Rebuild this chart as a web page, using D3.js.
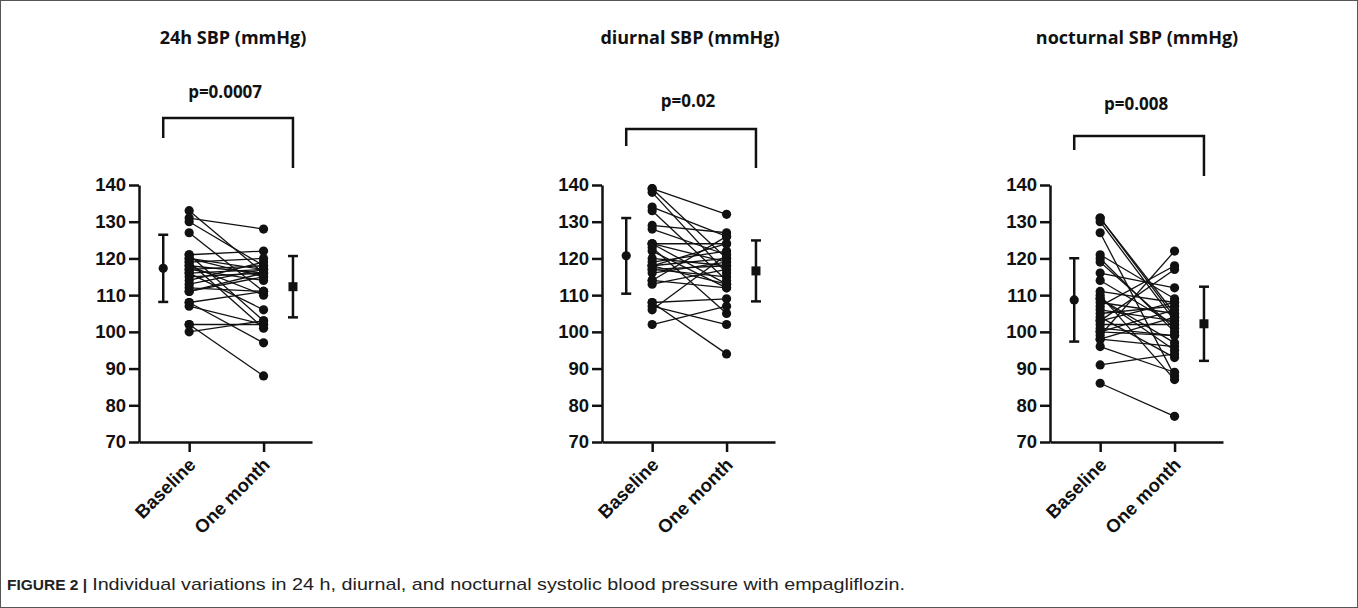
<!DOCTYPE html>
<html>
<head>
<meta charset="utf-8">
<script src="https://cdn.jsdelivr.net/npm/d3@7"></script>
<style>
  body { margin: 0; background: #fff; }
  svg { display: block; }
  .tick text { font-family: 'Liberation Sans', Arial, sans-serif; font-weight: bold; font-size: 18.5px; fill: #111; }
  .title, .pval { font-family: 'Open Sans', sans-serif; font-weight: bold; fill: #111; }
  .caption { font-family: 'Liberation Sans', Arial, sans-serif; font-size: 17px; fill: #222; }
</style>
</head>
<body>
<div id="chart"></div>
<script>
// chart data
const titles = ['24h SBP (mmHg)', 'diurnal SBP (mmHg)', 'nocturnal SBP (mmHg)']
const pValues = ['p=0.0007', 'p=0.02', 'p=0.008']
const timepoints = ['Baseline', 'One month']
const yTicks = [70, 80, 90, 100, 110, 120, 130, 140]

// individual patients: [baseline, one month]
const sbp24h = [
  [133, 116], [131, 128], [130, 118], [127, 111], [121, 122], [121, 103], [120, 117],
  [120, 115], [119, 120], [119, 101], [118, 116], [118, 110], [117, 118], [117, 114],
  [116, 117], [116, 106], [115, 116], [114, 119], [113, 117], [112, 111], [111, 115],
  [111, 116], [108, 111], [108, 97], [107, 102], [102, 102], [102, 88], [100, 103]
]
const sbpDiurnal = [
  [139, 132], [139, 120], [138, 116], [134, 126], [133, 114], [129, 127], [128, 121],
  [124, 124], [124, 119], [123, 105], [122, 112], [120, 118], [119, 122], [118, 124],
  [118, 113], [118, 120], [117, 118], [117, 115], [116, 119], [114, 126], [114, 112],
  [113, 117], [108, 94], [108, 109], [107, 102], [106, 121], [102, 107], [124, 113]
]
const sbpNocturnal = [
  [131, 104], [131, 105], [130, 103], [127, 88], [121, 109], [120, 100], [119, 101],
  [116, 112], [114, 102], [111, 108], [110, 87], [109, 95], [108, 105], [107, 118],
  [106, 103], [105, 107], [104, 93], [103, 117], [102, 102], [101, 99], [100, 106],
  [99, 122], [98, 96], [98, 104], [96, 89], [91, 94], [86, 77], [109, 97], [103, 108], [100, 99]
]
// group mean and SD: [baseline, one month]
const meanValues = [[117.3, 112.3], [120.7, 116.6], [108.7, 102.2]]
const sdValues = [[9.15, 8.35], [10.3, 8.3], [11.35, 10.1]]

const captionLabel = 'FIGURE 2 |'
const caption = 'Individual variations in 24 h, diurnal, and nocturnal systolic blood pressure with empagliflozin.'

const W = 1358
const H = 608
const svg = d3.select('#chart').append('svg').attr('width', W).attr('height', H)

// thin frame round the figure
svg.append('rect').attr('x', 0.5).attr('y', 0.5).attr('width', W - 1).attr('height', H - 1)
  .attr('fill', 'none').attr('stroke', '#555').attr('stroke-width', 1)

// layout of each panel (axis position, bracket geometry, text positions)
const panels = [
  { x0: 139, titleX: 233, pY: 98, bTop: 118, bLeft: 138, bRight: 168, data: sbp24h },
  { x0: 602, titleX: 690, pY: 107, bTop: 129, bLeft: 146, bRight: 168, data: sbpDiurnal },
  { x0: 1050, titleX: 1137, pY: 110, bTop: 136, bLeft: 150, bRight: 176, data: sbpNocturnal }
]
const plotW = 173
// relative x positions inside a panel (percent of axis width)
const pos = { meanB: 14, base: 29, month: 72, meanM: 89 }

const y = d3.scaleLinear().domain([70, 140]).range([442, 185])

panels.forEach(function (p, i) {
  const x = d3.scaleLinear().domain([0, 100]).range([p.x0, p.x0 + plotW])
  const g = svg.append('g')

  // y axis
  g.append('g').attr('transform', 'translate(' + p.x0 + ',0)')
    .call(d3.axisLeft(y).tickValues(yTicks).tickSize(10).tickPadding(3).tickSizeOuter(0))
    .call(a => a.selectAll('path, line').attr('stroke', '#111').attr('stroke-width', 2.5))

  // x axis with rotated labels
  g.append('g').attr('transform', 'translate(0,' + y(70) + ')')
    .call(d3.axisBottom(x).tickValues([pos.base, pos.month])
      .tickFormat((d, j) => timepoints[j]).tickSize(10).tickSizeOuter(0))
    .call(a => a.selectAll('path, line').attr('stroke', '#111').attr('stroke-width', 2.5))
    .call(a => a.selectAll('text')
      .attr('x', 0).attr('y', 0).attr('dy', 0)
      .attr('transform', 'translate(7,24) rotate(-45)')
      .style('text-anchor', 'end'))

  // connecting lines for each patient
  g.selectAll('.pair').data(p.data).enter().append('line').attr('class', 'pair')
    .attr('x1', x(pos.base)).attr('x2', x(pos.month))
    .attr('y1', d => y(d[0])).attr('y2', d => y(d[1]))
    .attr('stroke', '#111').attr('stroke-width', 1.3)

  // points
  const pts = p.data.flatMap(d => [[pos.base, d[0]], [pos.month, d[1]]])
  g.selectAll('.pt').data(pts).enter().append('circle').attr('class', 'pt')
    .attr('cx', d => x(d[0])).attr('cy', d => y(d[1])).attr('r', 4.6)
    .attr('fill', '#111')

  // mean +- SD
  const ms = [[pos.meanB, meanValues[i][0], sdValues[i][0]], [pos.meanM, meanValues[i][1], sdValues[i][1]]]
  ms.forEach(function (m, k) {
    const cx = x(m[0])
    g.append('line').attr('x1', cx).attr('x2', cx)
      .attr('y1', y(m[1] - m[2])).attr('y2', y(m[1] + m[2]))
      .attr('stroke', '#111').attr('stroke-width', 2.5)
    ;[m[1] - m[2], m[1] + m[2]].forEach(v => {
      g.append('line').attr('x1', cx - 5).attr('x2', cx + 5)
        .attr('y1', y(v)).attr('y2', y(v))
        .attr('stroke', '#111').attr('stroke-width', 2.5)
    })
    if (k === 0) {
      g.append('circle').attr('cx', cx).attr('cy', y(m[1])).attr('r', 4.6).attr('fill', '#111')
    } else {
      g.append('rect').attr('x', cx - 4.5).attr('y', y(m[1]) - 4.5)
        .attr('width', 9).attr('height', 9).attr('fill', '#111')
    }
  })

  // significance bracket
  const bx1 = x(pos.meanB)
  const bx2 = x(pos.meanM)
  g.append('path')
    .attr('d', 'M' + bx1 + ',' + p.bLeft + 'V' + p.bTop + 'H' + bx2 + 'V' + p.bRight)
    .attr('fill', 'none').attr('stroke', '#111').attr('stroke-width', 2.5)

  g.append('text').attr('class', 'pval').attr('x', (bx1 + bx2) / 2 - 3).attr('y', p.pY)
    .attr('text-anchor', 'middle').style('font-size', '17px').text(pValues[i])

  g.append('text').attr('class', 'title').attr('x', p.titleX).attr('y', 44)
    .attr('text-anchor', 'middle').style('font-size', '18px').text(titles[i])
})

// figure caption: bold label, then regular text stretched to the reference width
const label = svg.append('text').attr('class', 'caption').attr('x', 7).attr('y', 590)
  .style('font-weight', 'bold').style('font-size', '15.5px')
  .text(captionLabel)
const labelEnd = 7 + label.node().getComputedTextLength() + 5
svg.append('text').attr('class', 'caption').attr('x', labelEnd).attr('y', 590)
  .attr('textLength', 905 - labelEnd).attr('lengthAdjust', 'spacingAndGlyphs')
  .text(caption)
</script>
</body>
</html>
